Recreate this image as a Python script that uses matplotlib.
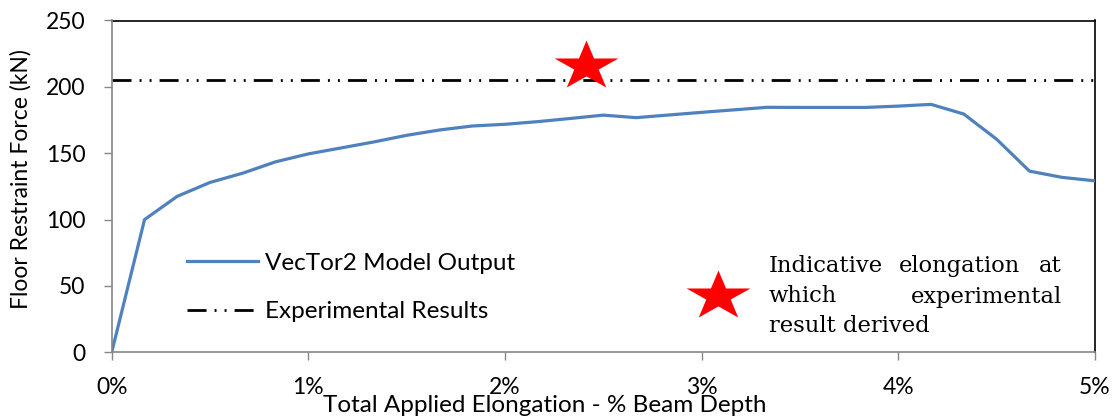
import matplotlib
matplotlib.use("Agg")
import matplotlib.pyplot as plt
from matplotlib.path import Path

# ---- data -------------------------------------------------------------
elongation_pct = [0.0, 0.167, 0.333, 0.5, 0.667, 0.833, 1.0, 1.167, 1.333, 1.5,
                  1.667, 1.833, 2.0, 2.167, 2.333, 2.5, 2.667, 2.833, 3.0, 3.167,
                  3.333, 3.5, 3.667, 3.833, 4.0, 4.167, 4.333, 4.5, 4.667, 4.833, 5.0]
restraint_force = [0, 100, 117.5, 128, 135, 143.5, 149.5, 154, 158.5, 163.5,
                   167.5, 170.5, 171.8, 173.8, 176.2, 178.7, 176.8, 178.8, 180.8, 182.7,
                   184.6, 184.5, 184.5, 184.5, 185.5, 186.8, 179.5, 160.5, 136.5, 131.8, 129.2]
experimental_force = 205
star_elongation = 2.41
star_force = 216

x_ticks = [0, 1, 2, 3, 4, 5]
x_tick_labels = ["0%", "1%", "2%", "3%", "4%", "5%"]
y_ticks = [0, 50, 100, 150, 200, 250]

# ---- styling ----------------------------------------------------------
W, H, DPI = 1114, 420, 100
SANS = ["Lato", "DejaVu Sans"]
SERIF = ["DejaVu Serif"]
BLUE = "#4F81BD"
GREY = "#868686"
plt.rcParams["font.family"] = SANS
plt.rcParams["lines.scale_dashes"] = False

def fx(px):
    return px / W

def fy(py):
    return 1 - py / H

fig = plt.figure(figsize=(W / DPI, H / DPI), dpi=DPI)
ax = fig.add_axes([fx(111.7), fy(352.3), (1095 - 111.7) / W, (352.3 - 20.5) / H])

# a slightly wide five-pointed star
star_verts = Path.unit_regular_star(5, 0.381966).vertices * [1.295, 1.0]
star_marker = Path(star_verts, closed=True)

model_line, = ax.plot(elongation_pct, restraint_force, color=BLUE, lw=2.3,
                      solid_joinstyle="round", zorder=3)
exp_line = ax.axhline(experimental_force, color="black", lw=2.0,
                      dashes=(13.7, 5.8, 1.4, 5.8, 1.4, 5.8), zorder=2)
ax.plot([star_elongation], [star_force], linestyle="none", marker=star_marker,
        markersize=46, color="#FF0000", markeredgewidth=0, zorder=4)

ax.set_xlim(0, 5)
ax.set_ylim(0, 250)
ax.set_xticks(x_ticks)
ax.set_xticklabels(x_tick_labels)
ax.set_yticks(y_ticks)

for side in ("top", "right"):
    ax.spines[side].set_color("black")
    ax.spines[side].set_linewidth(1.2)
for side in ("left", "bottom"):
    ax.spines[side].set_color(GREY)
    ax.spines[side].set_linewidth(1.2)
    ax.spines[side].set_zorder(5)

ax.tick_params(axis="both", direction="out", length=5.5, width=1.0, color=GREY,
               labelsize=16.5, labelcolor="black")
ax.tick_params(axis="y", pad=13.5)
ax.tick_params(axis="x", pad=12)

ax.set_xlabel("Total Applied Elongation - % Beam Depth", fontsize=17.5)
ax.xaxis.set_label_coords(0.44, -0.13)
ax.set_ylabel("Floor Restraint Force (kN)", fontsize=16.5)
ax.yaxis.set_label_coords(-0.081, 0.522)

leg = ax.legend([model_line, exp_line],
                ["VecTor2 Model Output", "Experimental Results"],
                loc="upper left", bbox_to_anchor=(0.0766, 0.30),
                frameon=False, fontsize=17.5, handlelength=2.9,
                handletextpad=0.3, labelspacing=1.12, borderpad=0,
                borderaxespad=0)

# star key with its justified description
ax.plot([fx(718)], [fy(296)], transform=fig.transFigure, linestyle="none",
        marker=star_marker, markersize=46, color="#FF0000",
        markeredgewidth=0, clip_on=False, zorder=4)

left, right = 769, 1062
serif_kw = dict(family=SERIF, fontsize=16.3, color="black", va="baseline")
fig.text(fx(left), fy(272), "Indicative", ha="left", **serif_kw)
fig.text(fx(960), fy(272), "elongation", ha="center", **serif_kw)
fig.text(fx(right), fy(272), "at", ha="right", **serif_kw)
fig.text(fx(left), fy(302.5), "which", ha="left", **serif_kw)
fig.text(fx(right), fy(302.5), "experimental", ha="right", **serif_kw)
fig.text(fx(left), fy(331.5), "result derived", ha="left", **serif_kw)

fig.savefig("out.png", dpi=DPI)
